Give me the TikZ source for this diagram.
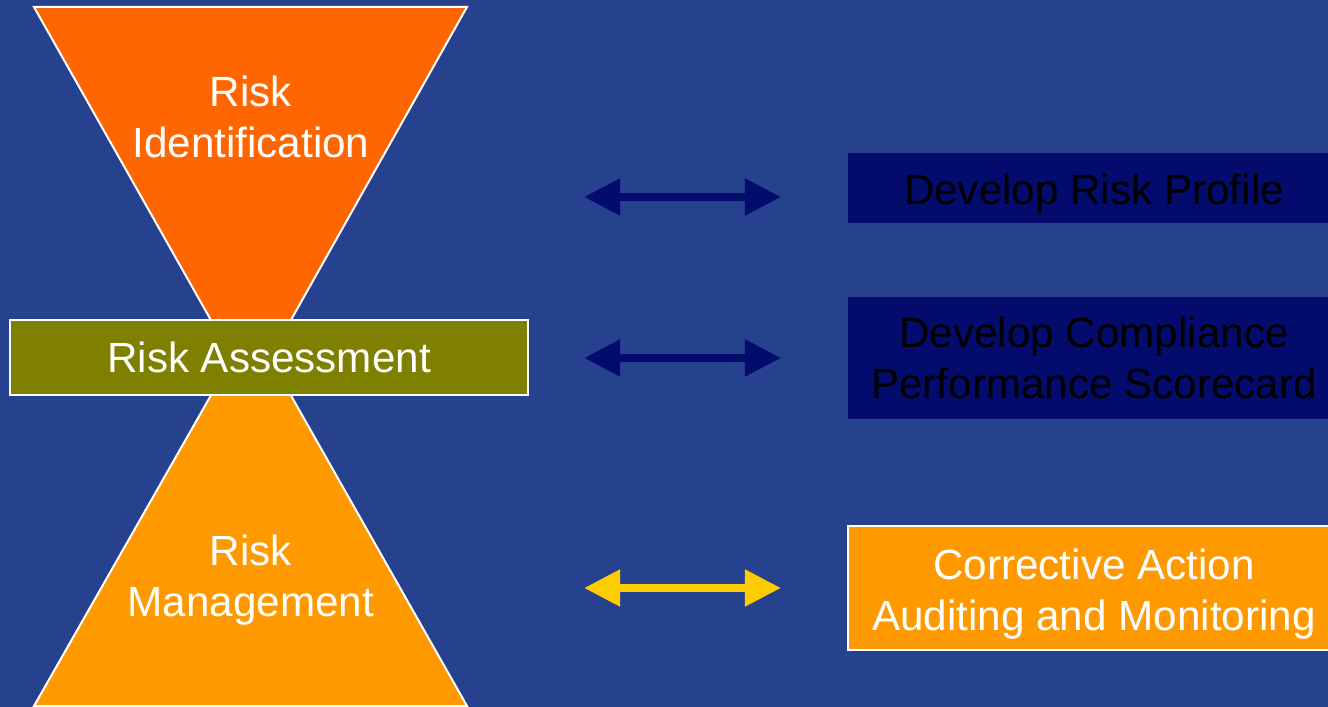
\documentclass[tikz,border=0pt]{standalone}
\usepackage{fontspec}
\setmainfont{Liberation Sans}
\usetikzlibrary{arrows.meta}
\definecolor{slidebg}{HTML}{26418E}
\definecolor{navybox}{HTML}{030B6C}
\definecolor{topfunnel}{HTML}{FF6600}
\definecolor{botfunnel}{HTML}{FF9900}
\definecolor{olivebox}{HTML}{808000}
\definecolor{linkgold}{HTML}{FFCC00}
% invisible strut that pushes the lines of a box down
\newcommand{\toppad}[1]{\rule{0pt}{#1}}
\begin{document}
\begin{tikzpicture}[
        x=0.01cm, y=-0.01cm,
        label/.style={text=white, align=center, font=\fontsize{12}{14.5}\selectfont},
        sidebox/.style={rectangle, minimum width=4.92cm, inner sep=0pt, align=center, font=\fontsize{12}{14.5}\selectfont},
        link/.style={{Triangle[length=0.36cm, width=0.35cm]}-{Triangle[length=0.36cm, width=0.35cm]}, line width=0.08cm}
      ]
        % Background
        \fill[slidebg] (0,0) rectangle (1328,707);
        \useasboundingbox (0,0) rectangle (1328,707);

        % Funnels
        \draw[white, line width=0.02cm, fill=botfunnel] (34,706) -- (467,706) -- (251,325) -- cycle;
        \draw[white, line width=0.02cm, fill=topfunnel] (34,7) -- (467,7) -- (251,391) -- cycle;
        \node[label] (ident) at (251,117) {Risk\\Identification};
        \node[label] (manage) at (251,580) {Risk\\Management};

        % Middle bar
        \node[rectangle, draw=white, line width=0.02cm, fill=olivebox, minimum width=5.18cm, minimum height=0.75cm, label] (assess) at (269,357.5) {Risk Assessment};

        % Right column
        \node[sidebox, fill=navybox, minimum height=0.7cm] (profile) at (1094,188) {\toppad{11.7pt}Develop Risk Profile};
        \node[sidebox, fill=navybox, minimum height=1.22cm] (score) at (1094,358) {Develop Compliance\\Performance Scorecard};
        \node[sidebox, fill=botfunnel, draw=white, line width=0.02cm, minimum height=1.24cm, text=white] (audit) at (1094,588) {\toppad{11.9pt}Corrective Action\\Auditing and Monitoring};

        % Arrows
        \coordinate (a1l) at (584,197); \coordinate (a1r) at (781,197);
        \coordinate (a2l) at (584,358); \coordinate (a2r) at (781,358);
        \coordinate (a3l) at (584,588); \coordinate (a3r) at (781,588);
        \draw[link, navybox] (a1l) -- (a1r);
        \draw[link, navybox] (a2l) -- (a2r);
        \draw[link, linkgold] (a3l) -- (a3r);
      \end{tikzpicture}
\end{document}
